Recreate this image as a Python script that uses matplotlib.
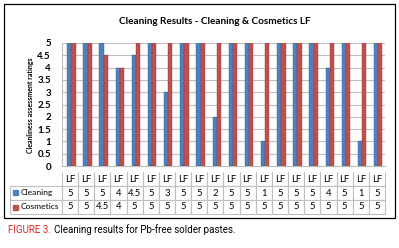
import matplotlib.pyplot as plt
import numpy as np
from matplotlib.patches import Rectangle
from matplotlib import font_manager

# data
categories = ["LF"] * 20
cleaning = [5, 5, 5, 4, 4.5, 5, 3, 5, 5, 2, 5, 5, 1, 5, 5, 5, 4, 5, 1, 5]
cosmetics = [5, 5, 4.5, 4, 5, 5, 5, 5, 5, 5, 5, 5, 5, 5, 5, 5, 5, 5, 5, 5]
series_names = ["Cleaning", "Cosmetics"]
colors = ["#4F81BD", "#C0504D"]

W, H = 399, 248
fig = plt.figure(figsize=(W / 100, H / 100), dpi=100)
plt.rcParams['font.family'] = ['Lato', 'DejaVu Sans']

def fx(px):
    return px / W

def fy(py):
    return 1 - py / H

ax = fig.add_axes([fx(62), fy(166), fx(385) - fx(62), fy(43) - fy(166)])

x = np.arange(len(categories))
w = 0.26
ax.bar(x - w / 2 + 0.08, cleaning, w, color=colors[0], edgecolor="#3A6499", linewidth=0.3, zorder=3)
ax.bar(x + w / 2 + 0.08, cosmetics, w, color=colors[1], edgecolor="#963C3A", linewidth=0.3, zorder=3)

ax.set_xlim(-0.5, len(categories) - 0.5)
ax.set_ylim(0, 5)
ax.set_yticks(np.arange(0, 5.01, 0.5))
ax.set_yticklabels(["0", "0.5", "1", "1.5", "2", "2.5", "3", "3.5", "4", "4.5", "5"])
ax.tick_params(axis="y", length=0, pad=8, labelsize=7)
for lab in ax.get_yticklabels():
    lab.set_fontweight("bold")
ax.set_xticks([])
ax.grid(axis="y", color="#BFBFBF", linewidth=0.8, zorder=0)
for s in ["top", "right"]:
    ax.spines[s].set_visible(False)
ax.spines["left"].set_color("#BFBFBF")
ax.spines["bottom"].set_color("#BFBFBF")

fig.text(fx(31), fy(105), "Cleanliness assessment ratings", rotation=90,
         fontsize=5, fontweight="bold", ha="center", va="center")

fig.text(fx(215), fy(21), "Cleaning Results - Cleaning & Cosmetics LF",
         fontsize=7.2, fontweight="bold", ha="center", va="center")

# data table under the chart
fmt = lambda v: ("%g" % v)
cell_text = [[""] + categories,
             [series_names[0]] + [fmt(v) for v in cleaning],
             [series_names[1]] + [fmt(v) for v in cosmetics]]
label_w = (62 - 10) / (385 - 10)
col_w = [label_w] + [(1 - label_w) / len(categories)] * len(categories)
tb = ax.table(cellText=cell_text, colWidths=col_w, cellLoc="center",
              bbox=[(10 - 62) / 323, (166 - 214) / 123, (385 - 10) / 323, (214 - 172) / 123])
tb.auto_set_font_size(False)
for (r, c), cell in tb.get_celld().items():
    cell.set_edgecolor("#BFBFBF")
    cell.set_linewidth(0.8)
    cell.get_text().set_fontsize(6.8)
    if c == 0:
        cell.get_text().set_fontsize(6.1)
        cell.get_text().set_ha("left")
        cell._loc = "left"
        cell.PAD = 11 / 52
    if r == 0 and c == 0:
        cell.visible_edges = ""
    elif r == 0:
        cell.visible_edges = "BLR"

# legend keys in the table
for i, col in enumerate(colors):
    yc = [192, 207][i]
    fig.patches.append(Rectangle((fx(13), fy(yc + 2.5)), fx(5), fy(0) - fy(5),
                                 transform=fig.transFigure, color=col, figure=fig))

# outer frame
fig.patches.append(Rectangle((fx(3.5), fy(218)), fx(395) - fx(3.5), fy(3.5) - fy(218),
                             transform=fig.transFigure, fill=False, edgecolor="black",
                             linewidth=0.9, figure=fig))

# caption
try:
    font_manager.findfont("Liberation Sans Narrow", fallback_to_default=False)
    cap = ['Liberation Sans Narrow', 'DejaVu Sans']
    cap_size = 7.9
except ValueError:
    cap = ['Roboto', 'DejaVu Sans']
    cap_size = 7.0
t1 = fig.text(fx(8), fy(230), "FIGURE 3.", color="#D7262B", fontsize=cap_size,
              family=cap, ha="left", va="center")
fig.canvas.draw()
bb = t1.get_window_extent()
fig.text(bb.x1 / W + fx(3), fy(230), "Cleaning results for Pb-free solder pastes.",
         color="black", fontsize=cap_size, family=cap, ha="left", va="center")

fig.savefig("out.png", dpi=100)
